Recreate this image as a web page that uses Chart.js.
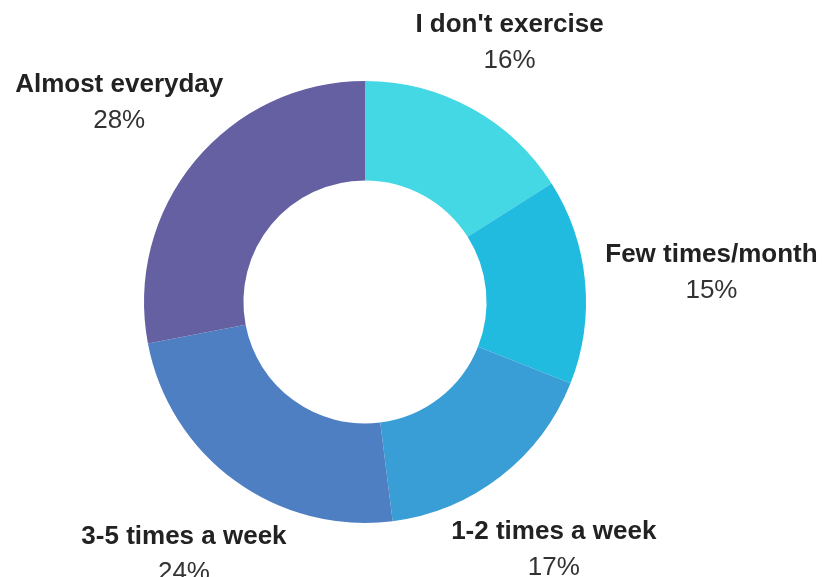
<!DOCTYPE html>
<html>
<head>
<meta charset="utf-8">
<script src="https://cdn.jsdelivr.net/npm/chart.js@4/dist/chart.umd.min.js"></script>
<style>
  html, body { margin: 0; padding: 0; background: #ffffff; }
  #wrap { width: 835px; height: 577px; position: relative; }
</style>
</head>
<body>
<div id="wrap"><canvas id="c" width="835" height="577"></canvas></div>
<script>
// ---- data ----
const categories = ["I don't exercise", "Few times/month", "1-2 times a week", "3-5 times a week", "Almost everyday"];
const percents = [16, 15, 17, 24, 28];

// ---- style ----
const sliceColors = ["#44D7E4", "#21BBE0", "#389ED5", "#4E7FC2", "#6460A2"];
const labelExtra = [79, 127, 87, 87, 98]; // label distance beyond outer radius

const labelPlugin = {
  id: 'sliceLabels',
  afterDatasetsDraw(chart) {
    const ctx = chart.ctx;
    const meta = chart.getDatasetMeta(0);
    ctx.save();
    ctx.textAlign = 'center';
    ctx.textBaseline = 'middle';
    meta.data.forEach((arc, i) => {
      const p = arc.getProps(['x', 'y', 'startAngle', 'endAngle', 'outerRadius'], true);
      const mid = (p.startAngle + p.endAngle) / 2;
      const d = p.outerRadius + labelExtra[i];
      const x = p.x + d * Math.cos(mid);
      const y = p.y + d * Math.sin(mid) + 4;
      ctx.fillStyle = '#222222';
      ctx.font = 'bold 26px "Liberation Sans", Arial, sans-serif';
      ctx.fillText(categories[i], x, y - 18);
      ctx.fillStyle = '#333333';
      ctx.font = '26px "Liberation Sans", Arial, sans-serif';
      ctx.fillText(percents[i] + '%', x, y + 18);
    });
    ctx.restore();
  }
};

new Chart(document.getElementById('c'), {
  type: 'doughnut',
  data: {
    labels: categories,
    datasets: [{
      data: percents,
      backgroundColor: sliceColors,
      borderWidth: 0,
      hoverOffset: 0
    }]
  },
  options: {
    responsive: false,
    animation: false,
    cutout: '55%',
    layout: { padding: { left: 144, right: 249, top: 81, bottom: 54 } },
    plugins: {
      legend: { display: false },
      tooltip: { enabled: false }
    }
  },
  plugins: [labelPlugin]
});
</script>
</body>
</html>
